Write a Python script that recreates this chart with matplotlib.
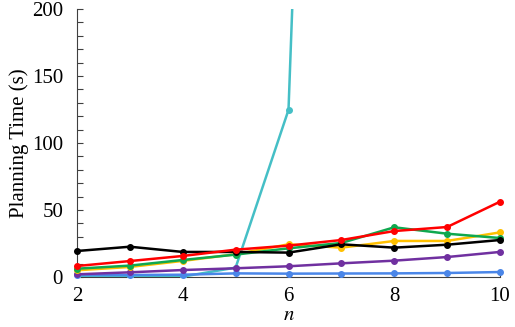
import matplotlib
matplotlib.use("Agg")
import matplotlib.pyplot as plt
from matplotlib.ticker import MultipleLocator

n = [2, 3, 4, 5, 6, 7, 8, 9, 10]

black = [19.4, 22.6, 18.7, 18.7, 18.2, 24.4, 21.9, 24.1, 27.6]
yellow = [5.0, 7.5, 12.0, 17.0, 24.4, 21.9, 26.9, 26.9, 33.3]
green = [6.2, 8.5, 12.7, 16.7, 21.4, 25.4, 37.1, 32.3, 29.1]
red = [8.2, 11.9, 15.7, 20.4, 23.4, 27.6, 34.3, 37.3, 56.2]
purple = [2.0, 3.5, 5.2, 6.5, 8.0, 10.2, 12.2, 14.9, 18.7]
blue = [1.5, 1.5, 1.7, 2.7, 2.5, 2.6, 2.7, 3.0, 3.7]
cyan = [0.1, 0.2, 0.3, 7.0, 124.7, 1200.0]

plt.rcParams['font.family'] = ['Liberation Serif', 'DejaVu Serif']
plt.rcParams['mathtext.fontset'] = 'stix'

fig = plt.figure(figsize=(5.15, 3.27), dpi=100)
ax = fig.add_axes([77/515, 1 - 277/327, (500-77)/515, (277-9)/327])

series = [
    (cyan, '#45BFC6'),
    (blue, '#4A86E8'),
    (purple, '#7030A0'),
    (yellow, '#FFC000'),
    (green, '#0FA84E'),
    (black, '#000000'),
    (red, '#FF0000'),
]
for vals, col in series:
    xs = n[:len(vals)]
    clip = vals is cyan
    ax.plot(xs, vals, color=col, lw=1.8, marker='o', ms=4, clip_on=clip, zorder=3)

ax.set_xlim(2, 10)
ax.set_ylim(0, 200)
ax.xaxis.set_major_locator(MultipleLocator(2))
ax.xaxis.set_minor_locator(MultipleLocator(1))
ax.yaxis.set_major_locator(MultipleLocator(50))
ax.yaxis.set_minor_locator(MultipleLocator(10))
ax.tick_params(which='both', direction='in', length=4, width=0.8, colors='#404040',
               labelcolor='black', labelsize=15)
ax.tick_params(axis='x', pad=7)
ax.tick_params(axis='y', pad=10)
ax.spines['top'].set_visible(False)
ax.spines['right'].set_visible(False)
for s in ['left', 'bottom']:
    ax.spines[s].set_color('#404040')
    ax.spines[s].set_linewidth(0.8)

ax.set_ylabel('Planning Time (s)', fontsize=15, labelpad=2)
ax.set_xlabel('$n$', fontsize=15, labelpad=0)

fig.savefig('out.png', dpi=100)
